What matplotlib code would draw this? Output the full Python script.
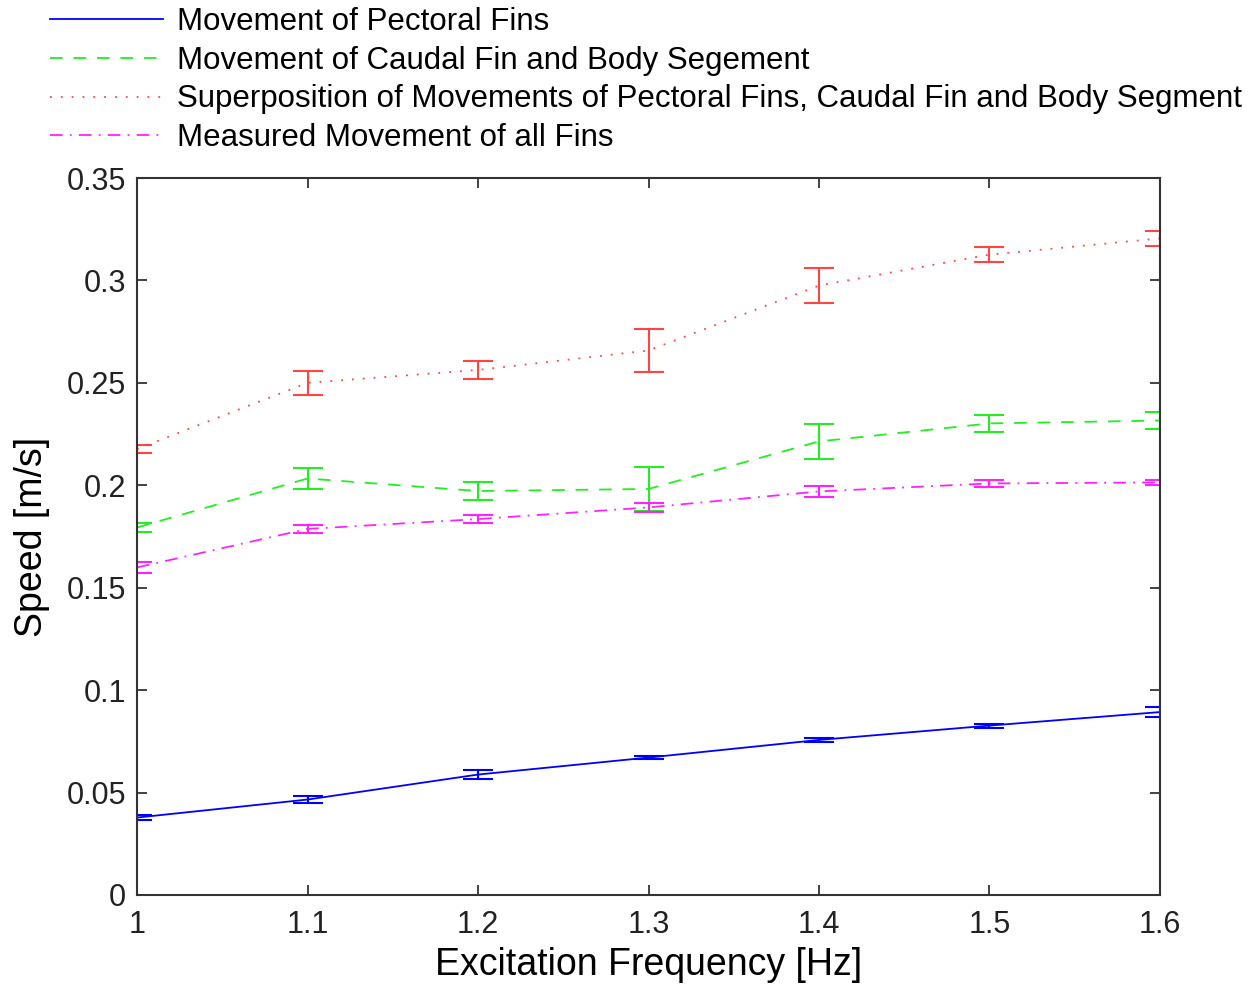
import matplotlib
matplotlib.use("Agg")
import matplotlib.pyplot as plt

freq = [1.0, 1.1, 1.2, 1.3, 1.4, 1.5, 1.6]

pectoral = [0.0378, 0.0466, 0.0588, 0.0671, 0.0757, 0.0827, 0.0893]
pectoral_err = [0.0012, 0.0017, 0.0020, 0.0008, 0.0008, 0.0010, 0.0025]

caudal = [0.1794, 0.2033, 0.1972, 0.1982, 0.2214, 0.2302, 0.2316]
caudal_err = [0.0020, 0.0050, 0.0044, 0.0107, 0.0085, 0.0040, 0.0040]

superpos = [0.2177, 0.2500, 0.2563, 0.2658, 0.2975, 0.3126, 0.3205]
superpos_err = [0.0020, 0.0060, 0.0044, 0.0105, 0.0085, 0.0037, 0.0037]

measured = [0.1599, 0.1787, 0.1835, 0.1892, 0.1970, 0.2009, 0.2014]
measured_err = [0.0027, 0.0020, 0.0020, 0.0022, 0.0027, 0.0017, 0.0012]

labels = ["Movement of Pectoral Fins",
          "Movement of Caudal Fin and Body Segement",
          "Superposition of Movements of Pectoral Fins, Caudal Fin and Body Segment",
          "Measured Movement of all Fins"]

xticks = [1.0, 1.1, 1.2, 1.3, 1.4, 1.5, 1.6]
xticklabels = ["1", "1.1", "1.2", "1.3", "1.4", "1.5", "1.6"]
yticks = [0, 0.05, 0.1, 0.15, 0.2, 0.25, 0.3, 0.35]
yticklabels = ["0", "0.05", "0.1", "0.15", "0.2", "0.25", "0.3", "0.35"]

plt.rcParams['font.family'] = ['Liberation Sans', 'DejaVu Sans']

fig = plt.figure(figsize=(12.54, 9.84), dpi=100)
ax = fig.add_axes([137/1254, 89/984, 1023/1254, 717/984])

series = [
    (pectoral, pectoral_err, '#0000ff', '-'),
    (caudal, caudal_err, '#22ee22', (0, (7, 6))),
    (superpos, superpos_err, '#ff4444', (0, (1, 5))),
    (measured, measured_err, '#ff22ff', (0, (7, 4, 1, 4))),
]

handles = []
for (vals, errs, col, ls), lab in zip(series, labels):
    ln, = ax.plot(freq, vals, color=col, linestyle=ls, lw=1.3, label=lab)
    ax.errorbar(freq, vals, yerr=errs, fmt='none', ecolor=col, elinewidth=1.5,
                capsize=11, capthick=1.5)
    handles.append(ln)

ax.set_xlim(1.0, 1.6)
ax.set_ylim(0, 0.35)
ax.set_xticks(xticks)
ax.set_xticklabels(xticklabels)
ax.set_yticks(yticks)
ax.set_yticklabels(yticklabels)
ax.tick_params(direction='in', length=7, width=1.2, top=True, right=True,
               labelsize=22, pad=8, colors='#222222')
ax.tick_params(axis='x', pad=11)
for s in ax.spines.values():
    s.set_linewidth(1.5)
    s.set_color('#333333')

ax.set_xlabel("Excitation Frequency [Hz]", fontsize=27, labelpad=5)
ax.set_ylabel("Speed [m/s]", fontsize=27, labelpad=12)

fig.legend(handles=handles, labels=labels, loc='upper left',
           bbox_to_anchor=(50/1254, 1 - 7/984), frameon=False, fontsize=22.5,
           handlelength=3.6, handletextpad=0.45, labelspacing=0.28,
           borderpad=0, borderaxespad=0)

fig.savefig("out.png", dpi=100)
